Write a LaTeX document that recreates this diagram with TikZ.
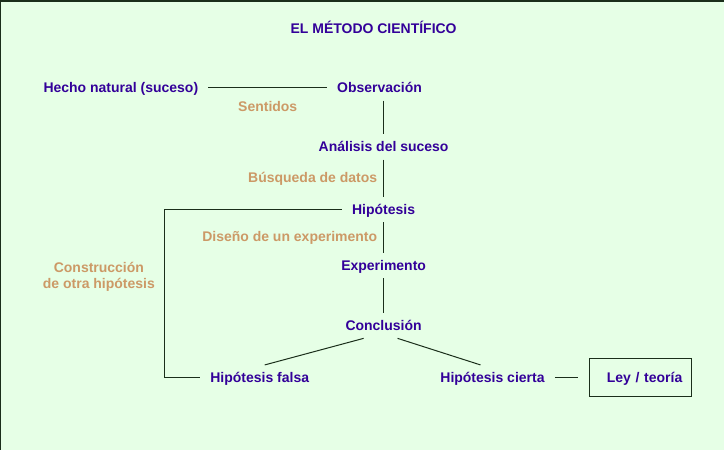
\documentclass[tikz,border=0pt]{standalone}
\usepackage{fontspec}
\setmainfont{Liberation Sans}
\usetikzlibrary{positioning}
\definecolor{fondo}{HTML}{E6FFE6}
\definecolor{azul}{HTML}{330099}
\definecolor{ocre}{HTML}{CC9966}
\definecolor{trazo}{HTML}{1A2E1A}
\tikzset{
    etapa/.style={
           text=azul,
           font=\fontsize{14pt}{16pt}\selectfont\bfseries,
           text height=12pt,
           text depth=3pt,
           inner xsep=10pt,
           inner ysep=5pt,
           },
    medio/.style={
           text=ocre,
           font=\fontsize{14pt}{16pt}\selectfont\bfseries,
           align=center,
           },
    caja/.style={
           etapa,
           draw=trazo, line width=1pt,
           text width=84pt,
           align=right,
           inner xsep=9pt,
           minimum height=38pt,
           },
    conector/.style={draw=trazo, line width=1pt},
}

\begin{document}
\begin{tikzpicture}[x=1pt, y=-1pt, node distance=60pt,
    every edge/.style={conector}]

 \fill[fondo] (0,0) rectangle (725,450);
 \draw[trazo, line width=1.5pt] (0.75,450) -- (0.75,0.75) -- (725,0.75);

 \node[etapa] (TITULO) at (374,29)
 {%
  EL MÉTODO CIENTÍFICO
 };

 \node[etapa] (HECHO) at (121,88)
 {%
  Hecho natural (suceso)
 };

 \node[etapa,
  right of=HECHO,
  xshift=199pt] (OBS)
 {%
  Observación
 };

 \node[etapa,
  below of=OBS,
  xshift=4pt,
  yshift=1pt] (ANA)
 {%
  Análisis del suceso
 };

 \node[etapa,
  below of=ANA,
  yshift=-3pt] (HIP)
 {%
  Hipótesis
 };

 \node[etapa,
  below of=HIP,
  yshift=4pt] (EXP)
 {%
  Experimento
 };

 \node[etapa,
  below of=EXP] (CONC)
 {%
  Conclusión
 };

 \node[etapa] (HFALSA) at (260,378)
 {%
  Hipótesis falsa
 };

 \node[etapa] (HCIERTA) at (493,378)
 {%
  Hipótesis cierta
 };

 \node[caja] (LEY) at (641,378)
 {%
  Ley / teoría
 };

 \node[medio] (SENTIDOS) at (268,107) {Sentidos};
 \node[medio] (BUSQUEDA) at (313,179) {Búsqueda de datos};
 \node[medio] (DISENO) at (290,238) {Diseño de un experimento};
 \node[medio] (CONSTRUCCION) at (99,277) {Construcción\\de otra hipótesis};

 \coordinate (ESQ) at (165,210);

 \path (HECHO) edge (OBS);
 \path (OBS.south -| ANA.north) edge (ANA);
 \path (ANA) edge (HIP);
 \path (HIP) edge (EXP);
 \path (EXP) edge (CONC);

 \path ([xshift=-20pt]CONC.south) edge ([xshift=5pt]HFALSA.north);
 \path ([xshift=14pt]CONC.south) edge ([xshift=-12pt]HCIERTA.north);

 \path (HCIERTA) edge[shorten >=11pt] (LEY);

 \draw[conector] (HIP.west) -- (ESQ) |- (HFALSA.west);

\end{tikzpicture}
\end{document}
